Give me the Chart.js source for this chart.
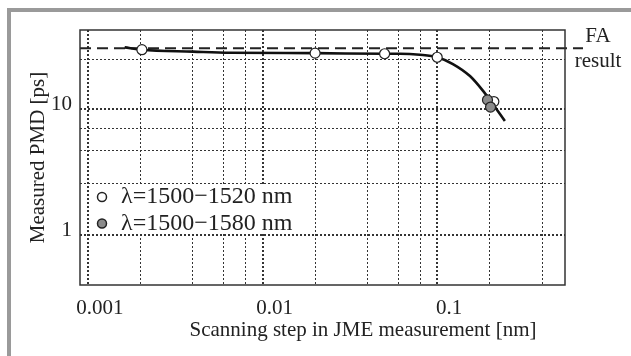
<!DOCTYPE html>
<html>
<head>
<meta charset="utf-8">
<script src="https://cdn.jsdelivr.net/npm/chart.js@4.4.0/dist/chart.umd.min.js"></script>
<style>
  html, body { margin: 0; padding: 0; background: #fff; }
  #wrap { position: relative; width: 631px; height: 356px; overflow: hidden; }
  #frame { position: absolute; left: 7px; top: 8px; right: 0; bottom: 0;
           border-top: 4px solid #9a9a9a; border-left: 4px solid #9a9a9a; }
  canvas { position: absolute; left: 0; top: 0; }
</style>
</head>
<body>
<div id="wrap">
  <div id="frame"></div>
  <canvas id="pmd" width="631" height="356"></canvas>
</div>
<script>
// measured points, lambda = 1500-1520 nm (open circles)
var stepNarrow = [0.00204, 0.02, 0.05, 0.1, 0.211];
var pmdNarrow = [29.6, 27.8, 27.5, 25.8, 11.5];
// measured points, lambda = 1500-1580 nm (grey circles)
var stepWide = [0.194, 0.202];
var pmdWide = [11.85, 10.4];
// guide curve through the points
var fitStep = [0.001625, 0.00204, 0.004, 0.0065, 0.02, 0.05, 0.0611, 0.0796, 0.1, 0.123, 0.154, 0.183, 0.214, 0.244];
var fitPmd = [30.9, 29.6, 28.6, 28.0, 27.8, 27.5, 27.5, 27.0, 25.8, 22.8, 18.3, 13.96, 10.4, 8.08];
// fixed analyzer result [ps]
var faResult = 30.4;

var xGrid = [0.001, 0.002, 0.004, 0.006, 0.008, 0.01, 0.02, 0.04, 0.06, 0.08, 0.1, 0.2, 0.4];
var yGrid = [1, 2.6, 4.7, 7, 10, 24.7];
var xLabels = ['0.001', '0.01', '0.1'];
var yLabels = ['1', '10'];
var xTitle = 'Scanning step in JME measurement [nm]';

var serif = "'Liberation Serif', 'DejaVu Serif', serif";
var ink = '#222';

function pairs(xs, ys) {
    return xs.map(function (x, i) { return { x: x, y: ys[i] }; });
}
function labelFor(list, value) {
    for (var i = 0; i < list.length; i++) {
        if (Math.abs(parseFloat(list[i]) - value) < 1e-9) return list[i];
    }
    return '';
}

var extras = {
    id: 'extras',
    beforeDatasetsDraw: function (chart) {
        var ctx = chart.ctx, a = chart.chartArea;
        var y = chart.scales.y.getPixelForValue(faResult);
        ctx.save();
        ctx.strokeStyle = ink;
        ctx.lineWidth = 2;
        ctx.setLineDash([11, 6]);
        ctx.beginPath();
        ctx.moveTo(a.left, y);
        ctx.lineTo(a.right + 18, y);
        ctx.stroke();
        ctx.restore();
    },
    afterDraw: function (chart) {
        var ctx = chart.ctx, a = chart.chartArea;
        ctx.save();
        // plot frame
        ctx.strokeStyle = '#333';
        ctx.lineWidth = 1.5;
        ctx.strokeRect(a.left, a.top, a.right - a.left, a.bottom - a.top);

        // FA result note
        var y = chart.scales.y.getPixelForValue(faResult);
        ctx.fillStyle = ink;
        ctx.font = '21px ' + serif;
        ctx.textAlign = 'center';
        ctx.textBaseline = 'middle';
        ctx.fillText('FA', a.right + 33, y - 12);
        ctx.fillText('result', a.right + 33, y + 13);

        // x axis title, sits right of the plot centre in the original
        ctx.fillText(xTitle, a.left + 283, a.bottom + 45);

        // legend inside the plot
        ctx.fillStyle = '#fff';
        ctx.fillRect(a.left + 12, 184, 212, 50);
        var sets = [chart.data.datasets[1], chart.data.datasets[0]];
        ctx.font = '24px ' + serif;
        ctx.textAlign = 'left';
        sets.forEach(function (ds, i) {
            var ly = 197 + i * 26.5;
            ctx.beginPath();
            ctx.arc(a.left + 22, ly, 4.5, 0, Math.PI * 2);
            ctx.fillStyle = ds.pointBackgroundColor;
            ctx.fill();
            ctx.lineWidth = 1.5;
            ctx.strokeStyle = ink;
            ctx.stroke();
            ctx.fillStyle = ink;
            ctx.fillText(ds.label, a.left + 41, ly);
        });
        ctx.restore();
    }
};

var pmdChart = new Chart(document.getElementById('pmd'), {
    type: 'scatter',
    data: {
        datasets: [{
            label: 'λ=1500−1580 nm',
            data: pairs(stepWide, pmdWide),
            pointRadius: 5,
            pointBackgroundColor: '#8c8c8c',
            pointBorderColor: ink,
            pointBorderWidth: 1.2
        }, {
            label: 'λ=1500−1520 nm',
            data: pairs(stepNarrow, pmdNarrow),
            pointRadius: 5,
            pointBackgroundColor: '#ffffff',
            pointBorderColor: ink,
            pointBorderWidth: 1.2
        }, {
            label: 'fit',
            data: pairs(fitStep, fitPmd),
            showLine: true,
            pointRadius: 0,
            borderColor: '#111',
            borderWidth: 2.6,
            cubicInterpolationMode: 'monotone'
        }]
    },
    options: {
        responsive: false,
        animation: false,
        layout: { padding: { left: 0, top: 30, right: 66, bottom: 0 } },
        plugins: {
            legend: { display: false },
            tooltip: { enabled: false }
        },
        scales: {
            x: {
                type: 'logarithmic',
                min: 0.000902,
                max: 0.539,
                afterBuildTicks: function (scale) {
                    scale.ticks = xGrid.map(function (v) { return { value: v }; });
                },
                afterFit: function (scale) { scale.height = 71; },
                grid: {
                    color: '#333',
                    drawTicks: false,
                    lineWidth: function (c) {
                        return c.tick && labelFor(xLabels, c.tick.value) ? 2 : 1;
                    }
                },
                border: { display: false, dash: [2, 2] },
                ticks: {
                    autoSkip: false,
                    maxRotation: 0,
                    padding: 11,
                    labelOffset: 12,
                    color: ink,
                    font: { family: serif, size: 21 },
                    callback: function (value) { return labelFor(xLabels, value); }
                },
                title: { display: false }
            },
            y: {
                type: 'logarithmic',
                min: 0.405,
                max: 42.4,
                afterBuildTicks: function (scale) {
                    scale.ticks = yGrid.map(function (v) { return { value: v }; });
                },
                afterFit: function (scale) { scale.width = 80; },
                grid: {
                    color: '#333',
                    drawTicks: false,
                    lineWidth: function (c) {
                        return c.tick && labelFor(yLabels, c.tick.value) ? 2 : 1;
                    }
                },
                border: { display: false, dash: [2, 2] },
                ticks: {
                    autoSkip: false,
                    padding: 8,
                    labelOffset: -5,
                    color: ink,
                    font: { family: serif, size: 21 },
                    callback: function (value) { return labelFor(yLabels, value); }
                },
                title: {
                    display: true,
                    text: 'Measured PMD [ps]',
                    color: ink,
                    font: { family: serif, size: 21 },
                    padding: { top: 26, bottom: 0 }
                }
            }
        }
    },
    plugins: [extras]
});
</script>
</body>
</html>
